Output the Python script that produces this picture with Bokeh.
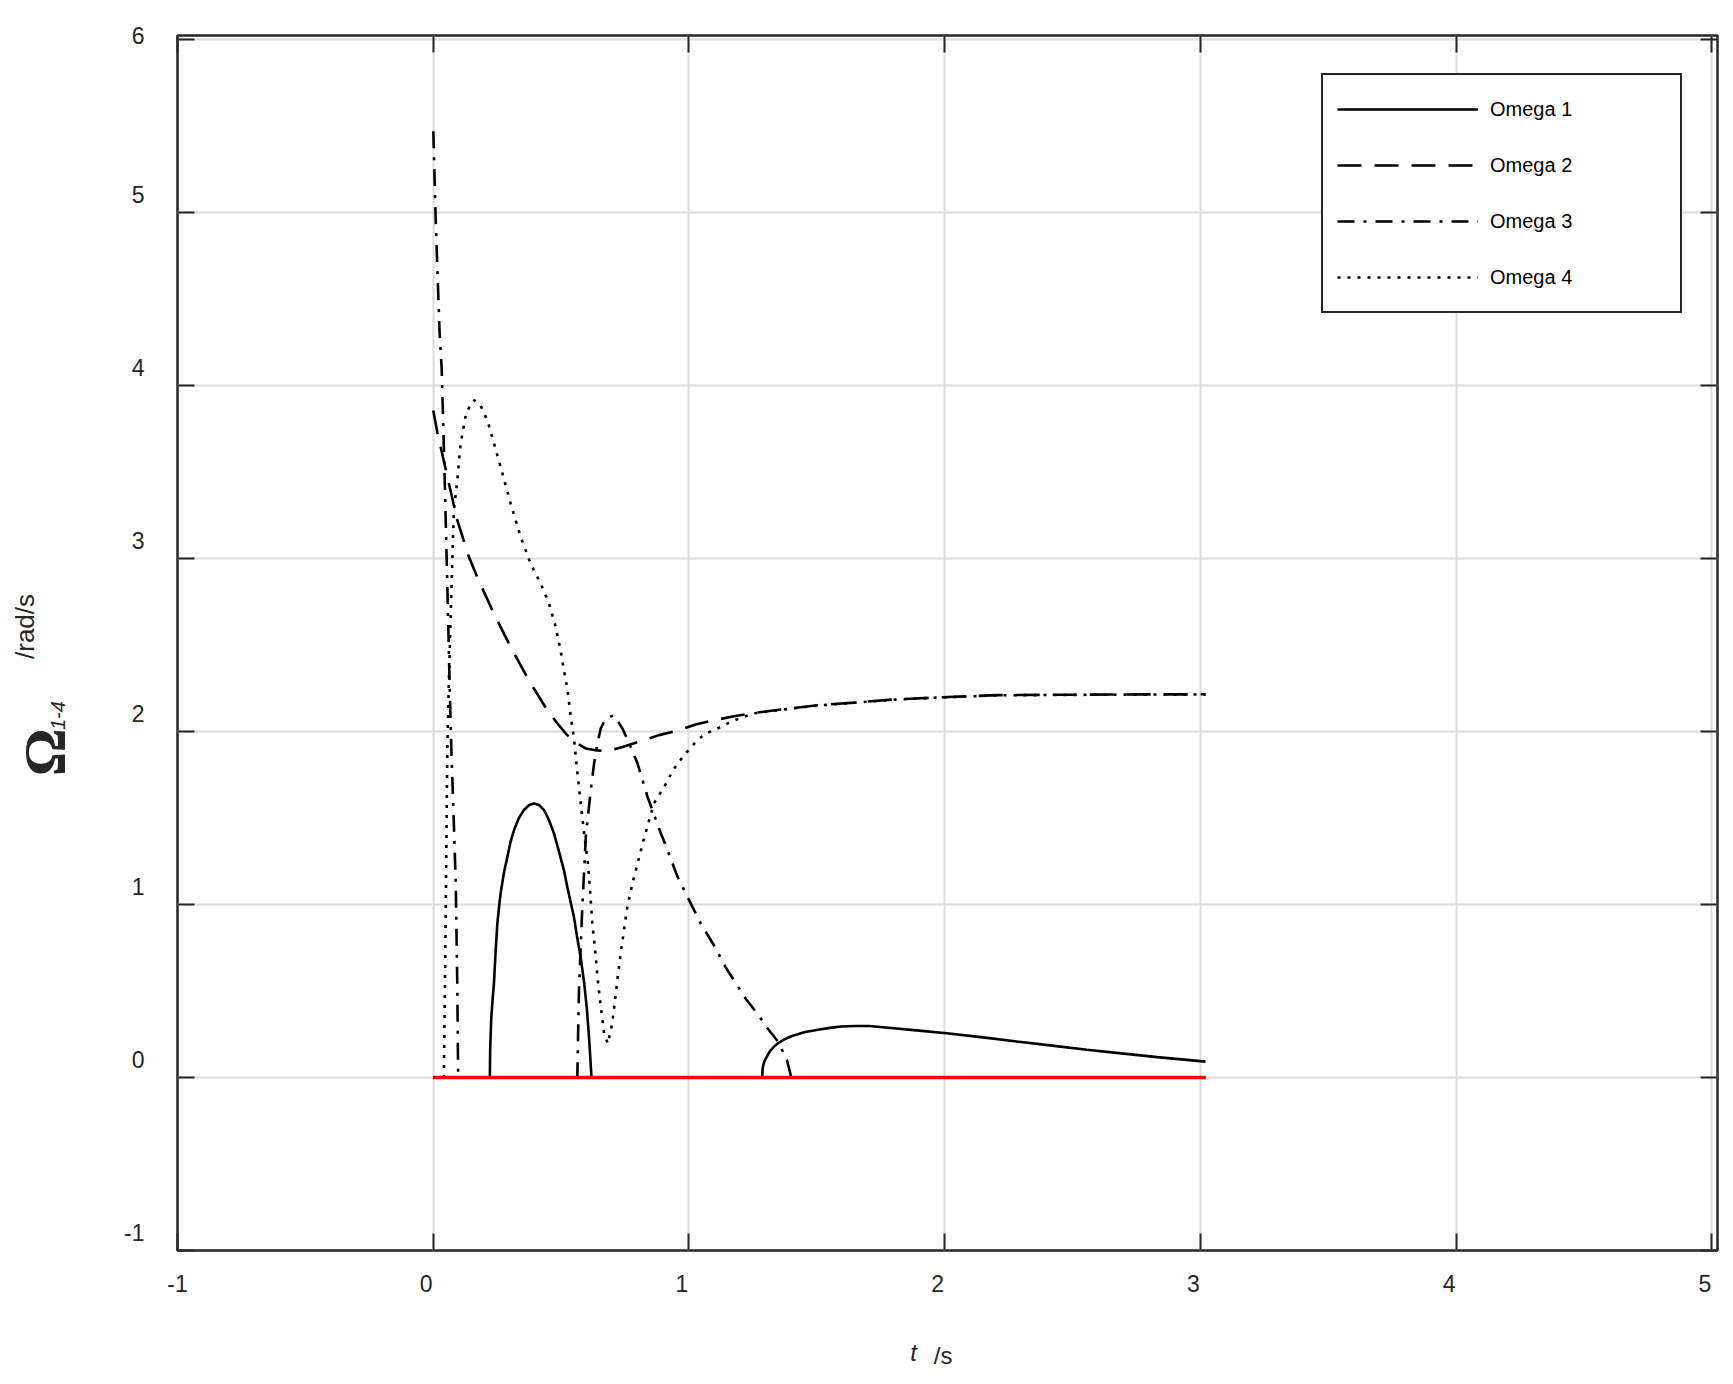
from bokeh.plotting import figure
from bokeh.models import (Range1d, LinearAxis, FixedTicker, CustomJSTickFormatter,
                          Legend, LegendItem)
from bokeh.embed import file_html
from bokeh.resources import INLINE

# ---------------- data ----------------
X_TICKS = [-1, 0, 1, 2, 3, 4, 5]
Y_TICKS = [-1, 0, 1, 2, 3, 4, 5, 6]

SERIES_NAMES = ["Omega 1", "Omega 2", "Omega 3", "Omega 4"]

t_omega1 = [0.0, 0.2215, 0.2225, 0.2265, 0.232, 0.2375, 0.244, 0.2508, 0.257, 0.2637,
            0.276, 0.290, 0.302, 0.316, 0.335, 0.355, 0.375, 0.394, 0.414, 0.433,
            0.452, 0.472, 0.491, 0.511, 0.5245, 0.550, 0.564, 0.577, 0.590, 0.600,
            0.608, 0.614, 0.618, 0.619,
            1.2865, 1.288, 1.293, 1.300, 1.310, 1.321, 1.334, 1.348, 1.375, 1.403,
            1.450, 1.499, 1.550, 1.596, 1.650, 1.705, 1.801, 1.900, 2.007, 2.150,
            2.282, 2.420, 2.556, 2.700, 2.831, 3.02]
v_omega1 = [0.0, 0.0, 0.15, 0.33, 0.45, 0.545, 0.73, 0.891, 0.98, 1.065,
            1.18, 1.276, 1.36, 1.430, 1.50, 1.546, 1.575, 1.584, 1.575, 1.546,
            1.49, 1.411, 1.31, 1.199, 1.10, 0.93, 0.80, 0.69, 0.55, 0.41,
            0.26, 0.12, 0.02, 0.0,
            0.0, 0.05, 0.085, 0.108, 0.136, 0.16, 0.18, 0.198, 0.222, 0.24,
            0.262, 0.275, 0.287, 0.295, 0.298, 0.298, 0.285, 0.271, 0.256, 0.232,
            0.208, 0.184, 0.160, 0.138, 0.118, 0.092]

t_omega2 = [0.0, 0.016, 0.0614, 0.0943, 0.1397, 0.172, 0.237, 0.303, 0.374, 0.446,
            0.486, 0.520, 0.553, 0.596, 0.640, 0.687, 0.740, 0.831, 0.883, 0.968,
            1.026, 1.085, 1.176, 1.255, 1.359, 1.503, 1.646, 1.802, 1.959, 2.102,
            2.207, 2.419, 2.700, 3.02]
v_omega2 = [3.855, 3.73, 3.432, 3.22, 3.008, 2.893, 2.681, 2.488, 2.296, 2.123,
            2.046, 1.985, 1.94, 1.902, 1.89, 1.889, 1.911, 1.954, 1.979, 2.011,
            2.04, 2.061, 2.088, 2.107, 2.127, 2.152, 2.167, 2.185, 2.196, 2.204,
            2.210, 2.212, 2.214, 2.215]

t_omega3 = [0.0004, 0.009, 0.016, 0.025, 0.033, 0.042, 0.055, 0.064, 0.071, 0.080,
            0.088, 0.094, 0.097, 0.098, 0.5635, 0.5665, 0.570, 0.583, 0.597, 0.616,
            0.629, 0.642, 0.655, 0.674, 0.707, 0.740, 0.772, 0.799, 0.838, 0.890,
            0.909, 0.955, 0.994, 1.046, 1.101, 1.142, 1.183, 1.225, 1.266, 1.307,
            1.348, 1.383, 1.396, 1.400, 3.02]
v_omega3 = [5.47, 4.99, 4.683, 4.298, 4.10, 3.624, 2.855, 2.277, 1.892, 1.50,
            1.122, 0.545, 0.073, 0.0, 0.0, 0.25, 0.506, 0.987, 1.40, 1.661,
            1.815, 1.931, 2.017, 2.075, 2.094, 2.017, 1.911, 1.815, 1.622, 1.411,
            1.343, 1.161, 1.045, 0.891, 0.756, 0.641, 0.545, 0.449, 0.372, 0.285,
            0.208, 0.102, 0.025, 0.0, 0.0]

t_omega4 = [0.0, 0.041, 0.042, 0.046, 0.050, 0.055, 0.061, 0.068, 0.075, 0.081,
            0.094, 0.107, 0.127, 0.146, 0.161, 0.185, 0.212, 0.238, 0.264, 0.303,
            0.342, 0.381, 0.420, 0.453, 0.479, 0.498, 0.511, 0.525, 0.538, 0.551,
            0.564, 0.574, 0.590, 0.605, 0.612, 0.622, 0.633, 0.642, 0.655, 0.668,
            0.683, 0.700, 0.711, 0.720, 0.733, 0.746, 0.759, 0.779, 0.799, 0.824,
            0.863, 0.903, 0.942, 0.981, 1.033, 1.066, 1.098, 1.131, 1.164, 1.196,
            1.255, 1.359, 1.503, 1.646, 1.802, 1.959, 2.102, 2.207, 2.419, 2.700, 3.02]
v_omega4 = [0.0, 0.0, 0.06, 0.545, 1.12, 1.89, 2.277, 2.66, 3.008, 3.278,
            3.45, 3.663, 3.826, 3.894, 3.915, 3.884, 3.797, 3.663, 3.528, 3.316,
            3.124, 2.970, 2.855, 2.739, 2.604, 2.469, 2.354, 2.24, 2.084, 1.950,
            1.757, 1.622, 1.41, 1.238, 1.11, 0.891, 0.737, 0.583, 0.41, 0.256,
            0.195, 0.314, 0.449, 0.564, 0.718, 0.853, 0.987, 1.122, 1.238, 1.38,
            1.584, 1.68, 1.786, 1.863, 1.95, 1.988, 2.008, 2.031, 2.056, 2.075,
            2.105, 2.125, 2.15, 2.166, 2.184, 2.195, 2.203, 2.209, 2.211, 2.213, 2.214]

t_zero = [0.0, 3.02]
v_zero = [0.0, 0.0]

# axis title pieces and where they sit along their axis (data units)
Y_TITLE_SYMBOL, Y_TITLE_SYMBOL_AT = "\u03a9", 1.88
Y_TITLE_SUB, Y_TITLE_SUB_AT = "1-4", 2.092
Y_TITLE_UNIT, Y_TITLE_UNIT_AT = "/rad/s", 2.607
X_TITLE_VAR, X_TITLE_VAR_AT = "t", 1.878
X_TITLE_UNIT, X_TITLE_UNIT_AT = "/s", 1.994

# ---------------- figure ----------------
X0, X1 = -1.0, 5.022
Y0, Y1 = -1.0, 6.023
DARK = "#262626"
FONT = "Liberation Sans"

p = figure(width=1725, height=1376, output_backend="svg", toolbar_location=None,
           x_range=Range1d(X0, X1), y_range=Range1d(Y0, Y1),
           min_border_left=177, min_border_right=8, min_border_top=35,
           min_border_bottom=126, background_fill_color="white",
           border_fill_color="white")
p.outline_line_color = DARK
p.outline_line_width = 2.5

empty = CustomJSTickFormatter(code="return ''")


def bare(ax):
    ax.axis_line_color = None
    ax.major_tick_line_color = None
    ax.minor_tick_line_color = None
    ax.major_tick_in = 0
    ax.major_tick_out = 0
    ax.minor_tick_in = 0
    ax.minor_tick_out = 0


def tick_axis(ax, ticks):
    ax.ticker = FixedTicker(ticks=ticks)
    ax.formatter = empty
    ax.major_tick_in = 17
    ax.major_tick_out = 0
    ax.minor_tick_in = 0
    ax.minor_tick_out = 0
    ax.major_tick_line_color = DARK
    ax.major_tick_line_width = 2
    ax.minor_tick_line_color = None
    ax.axis_line_color = None
    ax.major_label_standoff = 0
    ax.major_label_text_font_size = "1px"


tick_axis(p.xaxis[0], X_TICKS)
tick_axis(p.yaxis[0], Y_TICKS)
top_ax = LinearAxis()
right_ax = LinearAxis()
tick_axis(top_ax, X_TICKS)
tick_axis(right_ax, Y_TICKS)
p.add_layout(top_ax, "above")
p.add_layout(right_ax, "right")

p.xgrid.grid_line_color = "#dcdcdc"
p.ygrid.grid_line_color = "#dcdcdc"
p.xgrid.grid_line_width = 2
p.ygrid.grid_line_width = 2

# tick labels: in the reference they sit a little left of / above their ticks
DX = 7.0 / 255.7
DY = 17.5 / 173.0
x_lab_pos = [max(v - DX, X0) for v in X_TICKS]
y_lab_pos = [min(v + DY, Y1) for v in Y_TICKS]


def label_axis(ax, positions, code, standoff):
    ax.ticker = FixedTicker(ticks=positions)
    ax.formatter = CustomJSTickFormatter(code=code)
    bare(ax)
    ax.major_label_standoff = standoff
    ax.major_label_text_font = FONT
    ax.major_label_text_font_size = "23px"
    ax.major_label_text_color = DARK


xl = LinearAxis()
label_axis(xl, x_lab_pos, "return String(Math.round(tick + %r))" % DX, 24)
p.add_layout(xl, "below")
yl = LinearAxis()
label_axis(yl, y_lab_pos, "return String(Math.round(tick - %r))" % DY, 33)
p.add_layout(yl, "left")


# axis titles: one-tick axes whose tick label is a piece of the title
def title_axis(side, at, text, font, style, size, standoff, orientation):
    ax = LinearAxis(ticker=FixedTicker(ticks=[at]),
                    formatter=CustomJSTickFormatter(args=dict(txt=text), code="return txt"))
    bare(ax)
    ax.major_label_standoff = standoff
    ax.major_label_text_font = font
    ax.major_label_text_font_style = style
    ax.major_label_text_font_size = size
    ax.major_label_text_color = DARK
    ax.major_label_orientation = orientation
    p.add_layout(ax, side)
    return ax


title_axis("left", Y_TITLE_SUB_AT, Y_TITLE_SUB, FONT, "italic", "20px", 56, "parallel")
title_axis("left", Y_TITLE_SYMBOL_AT, Y_TITLE_SYMBOL, "Liberation Serif", "bold", "60px", -30, "parallel")
title_axis("left", Y_TITLE_UNIT_AT, Y_TITLE_UNIT, FONT, "normal", "26px", -31, "parallel")
title_axis("below", X_TITLE_VAR_AT, X_TITLE_VAR, FONT, "italic", "24px", 44, "horizontal")
title_axis("below", X_TITLE_UNIT_AT, X_TITLE_UNIT, FONT, "normal", "24px", -27, "horizontal")

# ---------------- series ----------------
LW = 2.6
r1 = p.line(t_omega1, v_omega1, line_color="black", line_width=LW)
r2 = p.line(t_omega2, v_omega2, line_color="black", line_width=LW, line_dash="24 13")
r3 = p.line(t_omega3, v_omega3, line_color="black", line_width=LW, line_dash="17 9 3 9")
r4 = p.line(t_omega4, v_omega4, line_color="black", line_width=LW, line_dash="3 7")
p.line(t_zero, v_zero, line_color="#ff0000", line_width=3.5)

legend = Legend(items=[LegendItem(label=n, renderers=[r]) for n, r in
                       zip(SERIES_NAMES, [r1, r2, r3, r4])],
                location=(1144, 937), orientation="vertical",
                glyph_width=141, glyph_height=40, label_height=40, label_width=176,
                label_standoff=12, spacing=16, padding=14, margin=0,
                label_text_font=FONT, label_text_font_size="20px",
                label_text_color="black",
                border_line_color=DARK, border_line_width=2.5, border_line_alpha=1.0,
                background_fill_color="white", background_fill_alpha=1.0)
p.add_layout(legend)

open("out.html", "w").write(file_html(p, INLINE))
